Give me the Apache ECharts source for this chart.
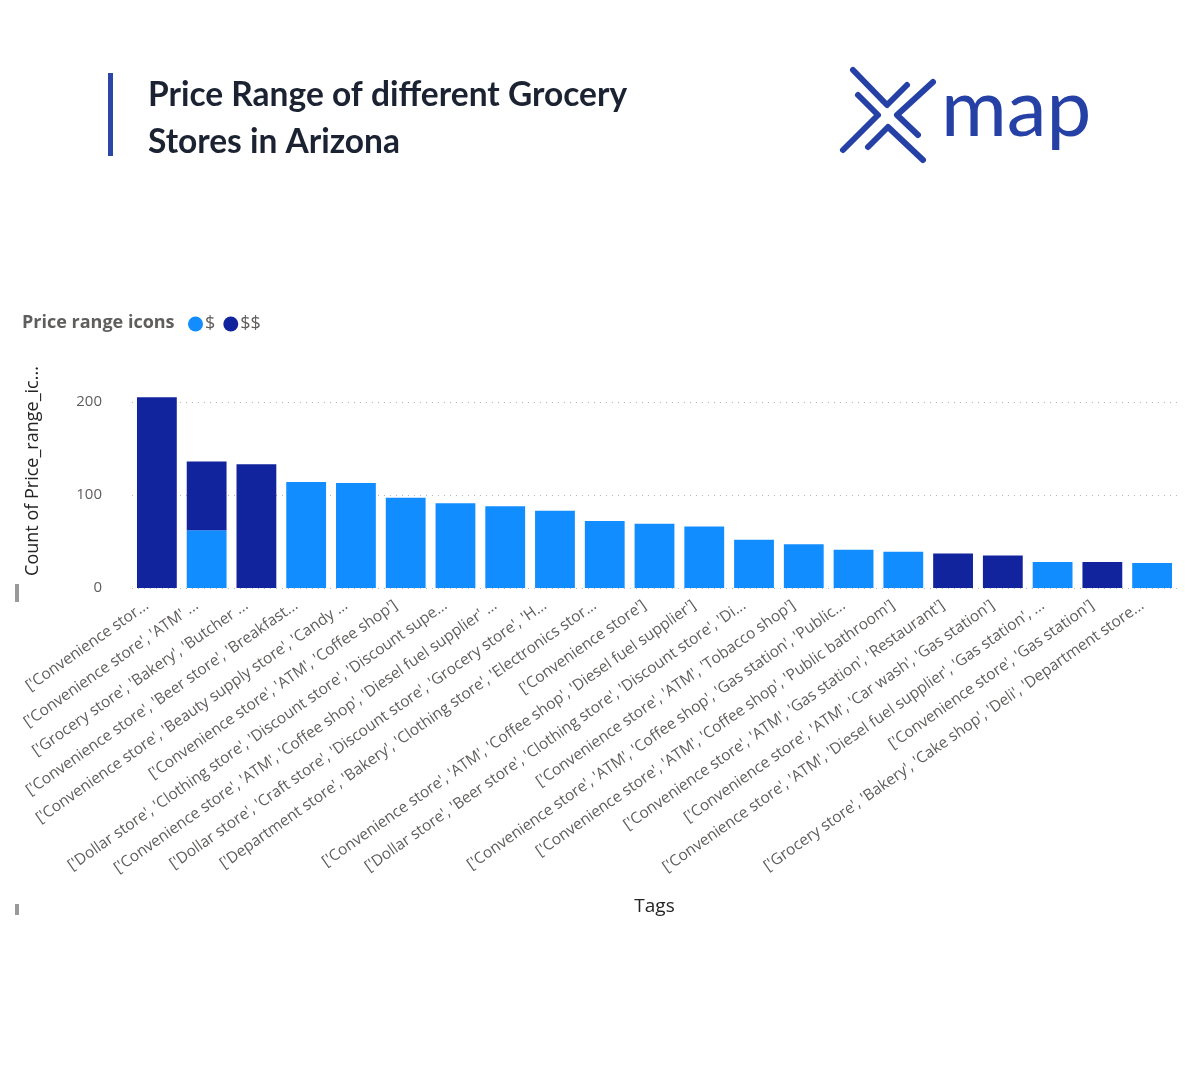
<!DOCTYPE html>
<html style="height: 100%">
<head>
    <meta charset="utf-8">
</head>
<body style="height: 100%; margin: 0; background: #fff">
<div id="price_range_container" style="height: 1080px; width: 1200px"></div>
<script src="https://cdn.jsdelivr.net/npm/echarts@6/dist/echarts.min.js"></script>
<script type="text/javascript">
    // tags, in the order Power BI sorted them (by total count)
    var tagNames = [
        "['Convenience stor...",
        "['Convenience store', 'ATM' ...",
        "['Grocery store', 'Bakery', 'Butcher ...",
        "['Convenience store', 'Beer store', 'Breakfast...",
        "['Convenience store', 'Beauty supply store', 'Candy ...",
        "['Convenience store', 'ATM', 'Coffee shop']",
        "['Dollar store', 'Clothing store', 'Discount store', 'Discount supe...",
        "['Convenience store', 'ATM', 'Coffee shop', 'Diesel fuel supplier' ...",
        "['Dollar store', 'Craft store', 'Discount store', 'Grocery store', 'H...",
        "['Department store', 'Bakery', 'Clothing store', 'Electronics stor...",
        "['Convenience store']",
        "['Convenience store', 'ATM', 'Coffee shop', 'Diesel fuel supplier']",
        "['Dollar store', 'Beer store', 'Clothing store', 'Discount store', 'Di...",
        "['Convenience store', 'ATM', 'Tobacco shop']",
        "['Convenience store', 'ATM', 'Coffee shop', 'Gas station', 'Public...",
        "['Convenience store', 'ATM', 'Coffee shop', 'Public bathroom']",
        "['Convenience store', 'ATM', 'Gas station', 'Restaurant']",
        "['Convenience store', 'ATM', 'Car wash', 'Gas station']",
        "['Convenience store', 'ATM', 'Diesel fuel supplier', 'Gas station', ...",
        "['Convenience store', 'Gas station']",
        "['Grocery store', 'Bakery', 'Cake shop', 'Deli', 'Department store..."
    ];
    var priceLevels = ['$', '$$'];
    var countOneDollar = [0, 62, 0, 114, 113, 97, 91, 88, 83, 72, 69, 66, 52, 47, 41, 39, 0, 0, 28, 0, 27];
    var countTwoDollar = [205, 74, 133, 0, 0, 0, 0, 0, 0, 0, 0, 0, 0, 0, 0, 0, 37, 35, 0, 28, 0];
    var yTicks = [0, 100, 200];

    var lightBlue = '#118DFF';
    var darkBlue = '#12239E';
    var logoBlue = '#2541a5';
    var greyText = '#605E5C';

    var price_range_dom = document.getElementById('price_range_container');
    var price_range_chart = echarts.init(price_range_dom);

    function logoStroke(points) {
        return {
            type: 'polyline',
            shape: { points: points },
            style: { stroke: logoBlue, lineWidth: 6, lineCap: 'round', lineJoin: 'round', fill: null }
        };
    }

    var price_range_option = {
        backgroundColor: '#ffffff',
        textStyle: { fontFamily: 'Open Sans' },
        title: [
            {
                text: 'Price Range of different Grocery\nStores in Arizona',
                left: 143,
                top: 67,
                textStyle: {
                    fontFamily: 'Lato',
                    fontWeight: 'bold',
                    fontSize: 33.5,
                    lineHeight: 47,
                    color: '#1b2232'
                }
            },
            {
                text: 'Price range icons',
                left: 17,
                top: 309,
                textStyle: {
                    fontFamily: 'Open Sans',
                    fontWeight: 'bold',
                    fontSize: 18,
                    color: '#5f5e5c'
                }
            }
        ],
        legend: {
            data: priceLevels,
            left: 183,
            top: 310,
            icon: 'circle',
            itemWidth: 15,
            itemHeight: 15,
            itemGap: 8,
            textStyle: {
                fontFamily: 'Open Sans',
                fontSize: 18,
                color: greyText,
                padding: [0, 0, 0, -3]
            }
        },
        grid: {
            left: 132,
            top: 402,
            width: 1045,
            height: 186
        },
        xAxis: {
            type: 'category',
            data: tagNames,
            name: 'Tags',
            nameLocation: 'middle',
            nameGap: 309,
            nameTextStyle: { fontFamily: 'Open Sans', fontSize: 19, color: '#252423' },
            axisLine: { show: false },
            axisTick: { show: false },
            axisLabel: {
                interval: 0,
                rotate: 35,
                margin: 9,
                fontSize: 15.5,
                color: greyText,
                fontFamily: 'Open Sans',
                padding: [0, 12, 0, 0]
            }
        },
        yAxis: {
            type: 'value',
            min: yTicks[0],
            max: yTicks[yTicks.length - 1],
            interval: 100,
            name: 'Count of Price_range_ic...',
            nameLocation: 'middle',
            nameRotate: 90,
            nameGap: 90,
            nameTextStyle: {
                fontFamily: 'Open Sans',
                fontSize: 18,
                color: '#252423',
                padding: [0, 0, 0, 48]
            },
            axisLine: { show: false },
            axisTick: { show: false },
            axisLabel: { margin: 30, fontSize: 15, color: greyText, fontFamily: 'Open Sans' },
            splitLine: {
                lineStyle: { type: [1, 5], color: '#b8b6b4', width: 1 }
            }
        },
        series: [
            {
                name: priceLevels[0],
                type: 'bar',
                stack: 'count',
                barCategoryGap: '20%',
                clip: false,
                itemStyle: { color: lightBlue },
                data: countOneDollar
            },
            {
                name: priceLevels[1],
                type: 'bar',
                stack: 'count',
                barCategoryGap: '20%',
                clip: false,
                itemStyle: { color: darkBlue },
                data: countTwoDollar
            }
        ],
        graphic: [
            // the blue stripe next to the heading
            { type: 'rect', shape: { x: 108, y: 73, width: 5, height: 83 }, style: { fill: '#2a46a6' } },
            // small grey frame marks on the left
            { type: 'rect', shape: { x: 15, y: 584, width: 4, height: 18 }, style: { fill: '#9a9a9a' } },
            { type: 'rect', shape: { x: 15, y: 904, width: 4, height: 11 }, style: { fill: '#9a9a9a' } },
            // xmap logo
            logoStroke([[853, 70], [887, 105], [907, 85]]),
            logoStroke([[858, 95], [878, 115], [843, 150]]),
            logoStroke([[933, 82], [897, 115], [918, 135]]),
            logoStroke([[868, 147], [888, 127], [923, 160]]),
            {
                type: 'text',
                style: {
                    x: 941,
                    y: 110,
                    text: 'map',
                    font: 'normal 80px Lato',
                    fill: logoBlue,
                    verticalAlign: 'middle'
                }
            }
        ]
    };

    if (price_range_option && typeof price_range_option === 'object') {
        price_range_chart.setOption(price_range_option, true);
    }
</script>
</body>
</html>
